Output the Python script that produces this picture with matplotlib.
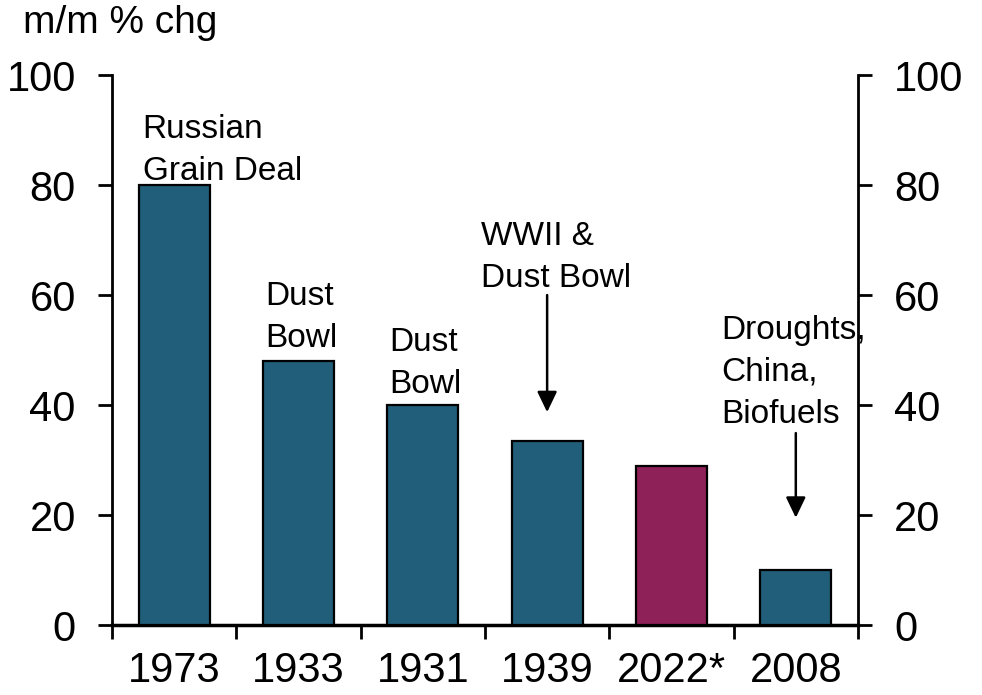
import matplotlib
matplotlib.use("Agg")
import matplotlib.pyplot as plt

plt.rcParams['font.family'] = ['Liberation Sans', 'DejaVu Sans']

categories = ["1973", "1933", "1931", "1939", "2022*", "2008"]
values = [80, 48, 40, 33.5, 29, 10]
highlight = "2022*"

annotation_texts = ["Russian\nGrain Deal", "Dust\nBowl", "Dust\nBowl",
                    "WWII &\nDust Bowl", "Droughts,\nChina,\nBiofuels"]
# (x, y) of last-line baseline, in data units
annotation_pos = [(-0.253, 80.9), (0.731, 50.5), (1.728, 42.2), (2.469, 61.5), (4.40, 36.8)]
# arrows: (x, y_start, y_end)
arrows = [(3, 60, 38.7), (5, 34.9, 19.5)]

TEAL = "#215E79"
MAGENTA = "#8E2157"

fig = plt.figure(figsize=(9.82, 6.95), dpi=100)
ax = fig.add_axes([0.114, 0.1007, 0.7597, 0.7913])

x = list(range(len(categories)))
colors = [MAGENTA if c == highlight else TEAL for c in categories]
ax.bar(x, values, width=0.57, color=colors, edgecolor="black", linewidth=1.6, zorder=3)

ax.set_xlim(-0.5, len(categories) - 0.5)
ax.set_ylim(0, 100)
ax.set_yticks(range(0, 101, 20))
ax.set_xticks([i - 0.5 for i in range(len(categories) + 1)])
ax.set_xticklabels([])
ax.set_xticks(x, minor=True)
ax.set_xticklabels(categories, minor=True, fontsize=30)
ax.tick_params(axis="x", which="minor", length=0, pad=19)
ax.tick_params(axis="x", which="major", direction="out", length=10, width=2)
ax.tick_params(axis="y", direction="out", length=10, width=2, labelsize=30, pad=16)

for s in ["top", "right"]:
    ax.spines[s].set_visible(False)
ax.spines["left"].set_linewidth(2)
ax.spines["bottom"].set_linewidth(2.5)

ax2 = ax.twinx()
ax2.set_ylim(0, 100)
ax2.set_yticks(range(0, 101, 20))
ax2.tick_params(axis="y", direction="out", length=10, width=2, labelsize=30, pad=16)
for s in ["top", "left", "bottom"]:
    ax2.spines[s].set_visible(False)
ax2.spines["right"].set_linewidth(2)

fs = 24
for txt, (tx, ty) in zip(annotation_texts, annotation_pos):
    ax.text(tx, ty, txt, fontsize=fs, va="baseline", ha="left", linespacing=1.45, zorder=5)

arrow_kw = dict(arrowstyle="-|>,head_length=1.25,head_width=0.6", color="black", lw=1.8,
                shrinkA=0, shrinkB=0)
for axx, y0, y1 in arrows:
    ax.annotate("", xy=(axx, y1), xytext=(axx, y0), arrowprops=arrow_kw, zorder=5)

fig.text(0.023, 1 - 33 / 695, "m/m % chg", fontsize=28, ha="left", va="baseline")

fig.savefig("out.png", dpi=100)
